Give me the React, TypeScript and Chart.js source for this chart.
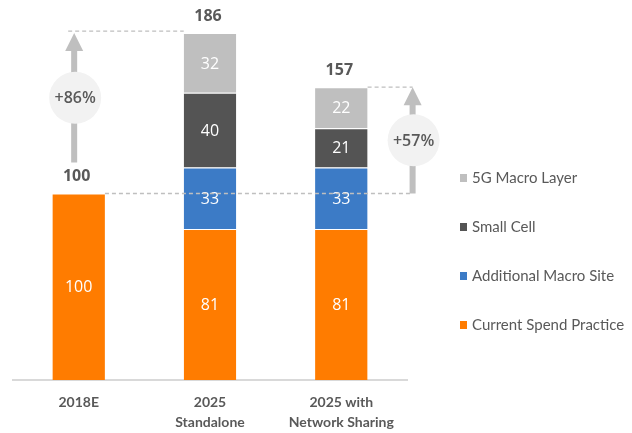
import { useEffect, useRef } from "react";
import { Chart, registerables } from "chart.js";

Chart.register(...registerables);

const categories: string[][] = [["2018E"], ["2025", "Standalone"], ["2025 with", "Network Sharing"]];
const seriesNames = ["Current Spend Practice", "Additional Macro Site", "Small Cell", "5G Macro Layer"];
const currentSpend = [100, 81, 81];
const additionalMacro = [null, 33, 33];
const smallCell = [null, 40, 21];
const macroLayer5G = [null, 32, 22];
const seriesColors = ["#FF7C00", "#3C7BC6", "#545454", "#BFBFBF"];

const TEXT = "#595959";
const NUM_FONT = "'Open Sans', 'DejaVu Sans', sans-serif";
const LABEL_FONT = "Lato, 'Open Sans', sans-serif";

const overlayPlugin = {
  id: "overlay",
  afterDatasetsDraw(chart: any) {
    const { ctx } = chart;
    const ys = chart.scales.y;
    const n = chart.data.labels.length;
    const datasets = chart.data.datasets;

    // segment labels
    ctx.save();
    ctx.fillStyle = "#FFFFFF";
    ctx.font = `16px ${NUM_FONT}`;
    ctx.textAlign = "center";
    ctx.textBaseline = "middle";
    datasets.forEach((ds: any, i: number) => {
      const meta = chart.getDatasetMeta(i);
      meta.data.forEach((bar: any, j: number) => {
        const v = ds.data[j];
        if (v == null) return;
        const p = bar.getProps(["x", "y", "base"], true);
        ctx.fillText(String(v), p.x, (p.y + p.base) / 2 + 1);
      });
    });
    ctx.restore();

    // totals
    const totals: number[] = [];
    for (let j = 0; j < n; j++) {
      let s = 0;
      datasets.forEach((ds: any) => (s += ds.data[j] ?? 0));
      totals.push(s);
    }
    const barAt = (j: number) => chart.getDatasetMeta(0).data[j].getProps(["x", "width"], true);

    ctx.save();
    ctx.fillStyle = TEXT;
    ctx.font = `bold 16px ${NUM_FONT}`;
    ctx.textAlign = "center";
    ctx.textBaseline = "middle";
    for (let j = 0; j < n; j++) {
      const b = barAt(j);
      ctx.fillText(String(totals[j]), b.x - 2, ys.getPixelForValue(totals[j]) - 17);
    }
    ctx.restore();

    // annotations
    const b0 = barAt(0);
    const b1 = barAt(1);
    const b2 = barAt(2);
    const yBase = ys.getPixelForValue(totals[0]);
    const yT1 = ys.getPixelForValue(totals[1]);
    const yT2 = ys.getPixelForValue(totals[2]);
    const leftX = b0.x - 4.5;
    const rightX = b2.x + b2.width / 2 + 45;

    ctx.save();
    ctx.strokeStyle = "#BFBFBF";
    ctx.lineWidth = 1.3;
    ctx.setLineDash([4, 3]);
    const dash = (x1: number, x2: number, y: number) => {
      ctx.beginPath();
      ctx.moveTo(x1, y);
      ctx.lineTo(x2, y);
      ctx.stroke();
    };
    dash(leftX - 6, b1.x - b1.width / 2, yT1 - 2);
    dash(b0.x + b0.width / 2, rightX, yBase);
    dash(b2.x + b2.width / 2, rightX, yT2);
    ctx.restore();

    const arrow = (x: number, yBottom: number, yTip: number, pct: string) => {
      ctx.save();
      ctx.fillStyle = "#BFBFBF";
      const headH = 18;
      const headW = 18;
      ctx.fillRect(x - 3, yTip + headH - 1, 6, yBottom - (yTip + headH - 1));
      ctx.beginPath();
      ctx.moveTo(x, yTip);
      ctx.lineTo(x + headW / 2, yTip + headH);
      ctx.lineTo(x - headW / 2, yTip + headH);
      ctx.closePath();
      ctx.fill();
      const cy = (yBottom + yTip) / 2;
      ctx.fillStyle = "#F2F2F2";
      ctx.beginPath();
      ctx.arc(x + 1, cy, 26, 0, Math.PI * 2);
      ctx.fill();
      ctx.fillStyle = TEXT;
      ctx.font = `600 16px ${NUM_FONT}`;
      ctx.textAlign = "center";
      ctx.textBaseline = "middle";
      ctx.fillText(pct, x + 1, cy + 1);
      ctx.restore();
    };
    const pct = (a: number, b: number) => `+${Math.round((a / b - 1) * 100)}%`;
    arrow(leftX, yBase - 31, yT1, pct(totals[1], totals[0]));
    arrow(rightX, yBase, yT2, pct(totals[2], totals[0]));

    // legend
    ctx.save();
    ctx.font = `15px ${LABEL_FONT}`;
    ctx.textAlign = "left";
    ctx.textBaseline = "middle";
    const order = [3, 2, 1, 0];
    order.forEach((i, k) => {
      const y = 178 + k * 49;
      ctx.fillStyle = datasets[i].backgroundColor;
      ctx.fillRect(460, y - 4, 7, 8);
      ctx.fillStyle = TEXT;
      ctx.fillText(datasets[i].label, 472, y);
    });
    ctx.restore();
  },
};

export default function App() {
  const ref = useRef<HTMLCanvasElement | null>(null);

  useEffect(() => {
    document.body.style.margin = "0";
    if (!ref.current) return;
    const series = [currentSpend, additionalMacro, smallCell, macroLayer5G];
    const chart = new Chart(ref.current, {
      type: "bar",
      data: {
        labels: categories,
        datasets: series.map((d, i) => ({
          label: seriesNames[i],
          data: d,
          backgroundColor: seriesColors[i],
          borderColor: "#FFFFFF",
          borderWidth: { top: 1, left: 0, right: 0, bottom: 0 },
          borderSkipped: false,
          barPercentage: 0.4,
          categoryPercentage: 1,
        })),
      },
      options: {
        responsive: false,
        animation: false,
        layout: { padding: { top: 7, left: 13, right: 225, bottom: 0 } },
        plugins: { legend: { display: false }, tooltip: { enabled: false } },
        scales: {
          x: {
            stacked: true,
            grid: { display: false, drawTicks: false },
            border: { display: true, color: "#D9D9D9", width: 2 },
            ticks: {
              color: TEXT,
              padding: 12,
              font: { family: LABEL_FONT, size: 14, weight: "bold", lineHeight: "20px" },
            },
            afterFit: (s: any) => {
              s.height = 53;
            },
          },
          y: { stacked: true, display: false, min: 0, max: 200 },
        },
      },
      plugins: [overlayPlugin],
    });
    return () => chart.destroy();
  }, []);

  return (
    <div style={{ width: 632, height: 433 }}>
      <canvas ref={ref} width={632} height={433} style={{ display: "block" }} />
    </div>
  );
}
